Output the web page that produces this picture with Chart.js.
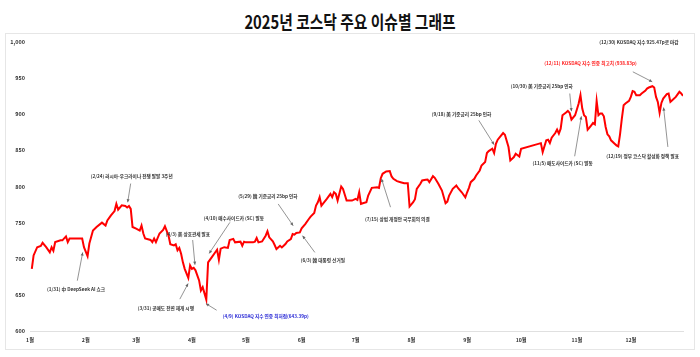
<!DOCTYPE html>
<html><head><meta charset="utf-8">
<script src="https://cdn.jsdelivr.net/npm/chart.js@4"></script>
<style>
html,body{margin:0;padding:0;background:#fff;}
#wrap{position:relative;width:700px;height:357px;overflow:hidden;}
#title{position:absolute;left:0;top:8px;width:700px;text-align:center;font-family:"Noto Sans CJK KR";font-weight:bold;font-size:18px;line-height:26px;color:#111;transform:scaleX(0.82);transform-origin:350px 0;}
#box{position:absolute;left:5px;top:33px;width:688px;height:315px;border:1px solid #e6e6e6;}
canvas{position:absolute;left:0;top:0;}
</style></head>
<body><div id="wrap"><div id="title">2025년 코스닥 주요 이슈별 그래프</div><div id="box"></div><canvas id="c" width="700" height="357"></canvas></div>
<script>
// trading day position: day of year (Jan 1 = 0)
const tradeDays = [1,2,4,6,7,9,11,12,13,14,17,18,20,21,22,23,29,30,32,33,35,37,40,42,43,45,47,48,49,51,53,54,55,56,57,59,61,62,63,64,67,68,69,70,72,74,75,77,78,80,81,82,83,84,85,86,88,89,90,91,92,94,95,96,98,99,101,103,104,105,106,108,110,111,113,114,117,118,119,120,124,125,126,127,129,131,132,133,135,136,137,139,140,142,143,145,146,147,148,150,151,153,155,156,158,159,160,161,162,163,165,167,168,169,170,171,173,174,176,179,181,182,183,184,185,187,188,190,193,194,195,196,198,200,201,202,204,206,208,210,211,213,214,215,217,218,220,221,222,224,225,227,229,231,232,233,235,237,238,240,242,243,244,245,247,248,250,251,253,254,255,257,258,259,260,263,264,266,267,269,270,272,273,284,285,287,288,289,290,292,293,294,295,296,298,299,300,301,303,304,305,306,307,308,309,310,311,312,313,314,315,316,317,318,319,320,321,322,323,325,326,327,328,329,330,331,333,334,335,336,337,339,340,342,343,344,346,347,348,349,350,351,352,354,355,356,357,359,361,362,363];
const kosdaq = [686,704.6,716,717.6,722,716,709,716,711,723,725.5,725.5,731,723,728,728,728,716,703.7,721,739,744,750,746,753,760,766,776,768,774,773,771,773,769,744,741.7,739,746,735,728,726,723,728,723,735,740,745,732,720,718.5,720,711.6,715,707,695,686,673.6,690.7,686,687.5,684,670,656,660.6,643.39,695,702,709,712.5,698.6,714,716,715,726,727.5,722.7,723.6,718,723.6,722.7,722.7,723.6,728.7,722.7,724,731.9,738,729.6,724,719,713.4,718,715.7,720.3,724,727.3,734.2,733.3,735.6,736.5,742,748,755,758.3,763.4,773.6,778.2,785.2,773.6,776.8,782.8,789.8,785.2,792,789.8,780.5,800,796.7,780.5,780.5,782.8,781.4,792,775.9,776.8,778.2,787.5,798.1,799,798.1,811.5,817.6,820.8,821.3,813.9,810.6,807.4,806,804.6,804.6,772.2,778.2,782.4,796.7,803.7,808.3,809.2,809.7,806,814.3,812,803.7,794.4,776.8,779.1,787.5,796.7,801.3,797.6,792,785.1,792,798.1,806,810.6,815.2,822.2,829.1,833.8,846.3,849,852.3,846.3,859.2,864.8,874,871.7,854.6,836.1,840.7,845.3,841.6,852.3,860,847.6,863.9,864.8,860.2,867.5,874,878.7,873.1,880,898.6,902.3,904.6,901.9,892.6,898.6,906.5,914.8,926.4,907.9,898.6,896.3,878.7,881.5,884.7,888,886.1,918.5,898.6,900.9,900.9,897.2,882.4,872.2,869.4,863.9,859.3,857,855.6,872.2,894,912.5,914.8,918.5,924,932,931,926.4,926.4,928.7,932.4,935.6,937,938.83,937,924,917.1,901.9,915.7,921.8,927.8,928.7,917.1,919.4,924,931,928.7,925.47];

const monthStartDays = [0,31,59,90,120,151,181,212,243,273,304,334];
const monthLabels = ['1월','2월','3월','4월','5월','6월','7월','8월','9월','10월','11월','12월'];
const yTicks = [600,650,700,750,800,850,900,950,1000];

// issue annotations: text, and where the arrow points (day, index value)
const eventTexts = [
  '(1/31) 中 DeepSeek AI 쇼크',
  '(2/24) 러시아-우크라이나 전쟁 발발 3주년',
  '(3/31) 공매도 전면 재개 시행',
  '(4/3) 美 상호관세 발표',
  '(4/9) KOSDAQ 지수 연중 최저점(643.39p)',
  '(4/10) 매수사이드카 (SC) 발동',
  '(5/29) 韓 기준금리 25bp 인하',
  '(6/3) 韓 대통령 선거일',
  '(7/15) 상법 개정안 국무회의 의결',
  '(9/18) 美 기준금리 25bp 인하',
  '(10/30) 美 기준금리 25bp 인하',
  '(11/5) 매도사이드카 (SC) 발동',
  '(12/11) KOSDAQ 지수 연중 최고치 (938.83p)',
  '(12/19) 정부 코스닥 활성화 정책 발표',
  '(12/30) KOSDAQ 지수 925.47p로 마감'
];
const eventDays = [29.3,54.3,87.9,91.7,97.8,99.6,146.3,151.5,195.4,258,301,306.5,345.9,352.2,363];
const eventValues = [708.8,778.2,665.7,691.7,637.9,707.4,745.8,731.9,810.7,857.9,904.2,897.2,944.9,909.3,925.47];

// layout of the annotations (pixel offsets from the arrow tip)
const eventLayout = [
  {text:[-6.7,37.3], tail:[-5.4,28.3]},
  {text:[4,-26], tail:[3,-18.7]},
  {text:[-22.3,25], tail:[-8.3,15.6]},
  {text:[-7,-30.7], tail:[-2.3,-24.7]},
  {text:[59.8,12.3], tail:[10.7,6.6], color:'#2b2bd6'},
  {text:[24.7,-35.4], tail:[20.7,-31]},
  {text:[-25.3,-29], tail:[-15,-21.7]},
  {text:[20.3,24.3], tail:[12.3,16.7]},
  {text:[15.8,40], tail:[9,28.4]},
  {text:[-32.6,-30], tail:[-15.3,-24.3]},
  {text:[-29.7,-25], tail:[-1.7,-17.7]},
  {text:[-18.7,47.3], tail:[-6.7,40]},
  {text:[-61.7,-18.4], tail:[-19.4,-10], color:'#ff2020'},
  {text:[-21,48.7], tail:[4.3,39.4]},
  {text:[-44,-53.5], tail:null}
];

const eventsPlugin = {
  id: 'events',
  afterDatasetsDraw(chart) {
    const ctx = chart.ctx, xs = chart.scales.x, ys = chart.scales.y;
    ctx.save();
    ctx.font = 'bold 4.65px "Noto Sans CJK KR"';
    ctx.textAlign = 'center';
    ctx.textBaseline = 'middle';
    eventTexts.forEach((t, i) => {
      const L = eventLayout[i];
      const px = xs.getPixelForValue(eventDays[i]);
      const py = ys.getPixelForValue(eventValues[i]);
      if (L.tail) {
        const tx = px + L.tail[0], ty = py + L.tail[1];
        ctx.strokeStyle = '#666';
        ctx.fillStyle = '#666';
        ctx.lineWidth = 0.7;
        ctx.beginPath(); ctx.moveTo(tx, ty); ctx.lineTo(px, py); ctx.stroke();
        const a = Math.atan2(py - ty, px - tx), len = 3.5, w = 0.45;
        ctx.beginPath();
        ctx.moveTo(px, py);
        ctx.lineTo(px - len*Math.cos(a - w), py - len*Math.sin(a - w));
        ctx.lineTo(px - len*Math.cos(a + w), py - len*Math.sin(a + w));
        ctx.closePath(); ctx.fill();
      }
      ctx.fillStyle = L.color || '#333';
      ctx.fillText(t, px + L.text[0], py + L.text[1]);
    });
    ctx.restore();
  }
};

new Chart(document.getElementById('c'), {
  type: 'line',
  data: {
    datasets: [{
      data: tradeDays.map((d, i) => ({x: d, y: kosdaq[i]})),
      borderColor: '#ff0000',
      borderWidth: 2,
      pointRadius: 0,
      tension: 0,
      fill: false
    }]
  },
  options: {
    responsive: false,
    animation: false,
    devicePixelRatio: 1,
    layout: {padding: {left: 0, right: 17, top: 42, bottom: 0}},
    plugins: {legend: {display: false}, tooltip: {enabled: false}},
    scales: {
      x: {
        type: 'linear', min: 0, max: 363,
        afterFit(s) { s.height = 26; },
        afterBuildTicks(s) { s.ticks = monthStartDays.map(v => ({value: v})); },
        grid: {display: false, drawTicks: false},
        border: {display: true, color: '#e0e0e0', width: 1},
        ticks: {
          autoSkip: false, maxRotation: 0, padding: 6,
          color: '#333', font: {family: 'Noto Sans CJK KR', size: 5.2, weight: 'bold'},
          callback: v => monthLabels[monthStartDays.indexOf(v)]
        }
      },
      y: {
        min: 600, max: 1000,
        afterFit(s) { s.width = 30; },
        afterBuildTicks(s) { s.ticks = yTicks.map(v => ({value: v})); },
        grid: {display: false, drawTicks: false},
        border: {display: false},
        ticks: {
          padding: 5, color: '#333',
          font: {family: 'Noto Sans CJK KR', size: 5.5, weight: 'bold'},
          callback: v => v.toLocaleString('en-US')
        }
      }
    }
  },
  plugins: [eventsPlugin]
});
</script>
</body></html>
